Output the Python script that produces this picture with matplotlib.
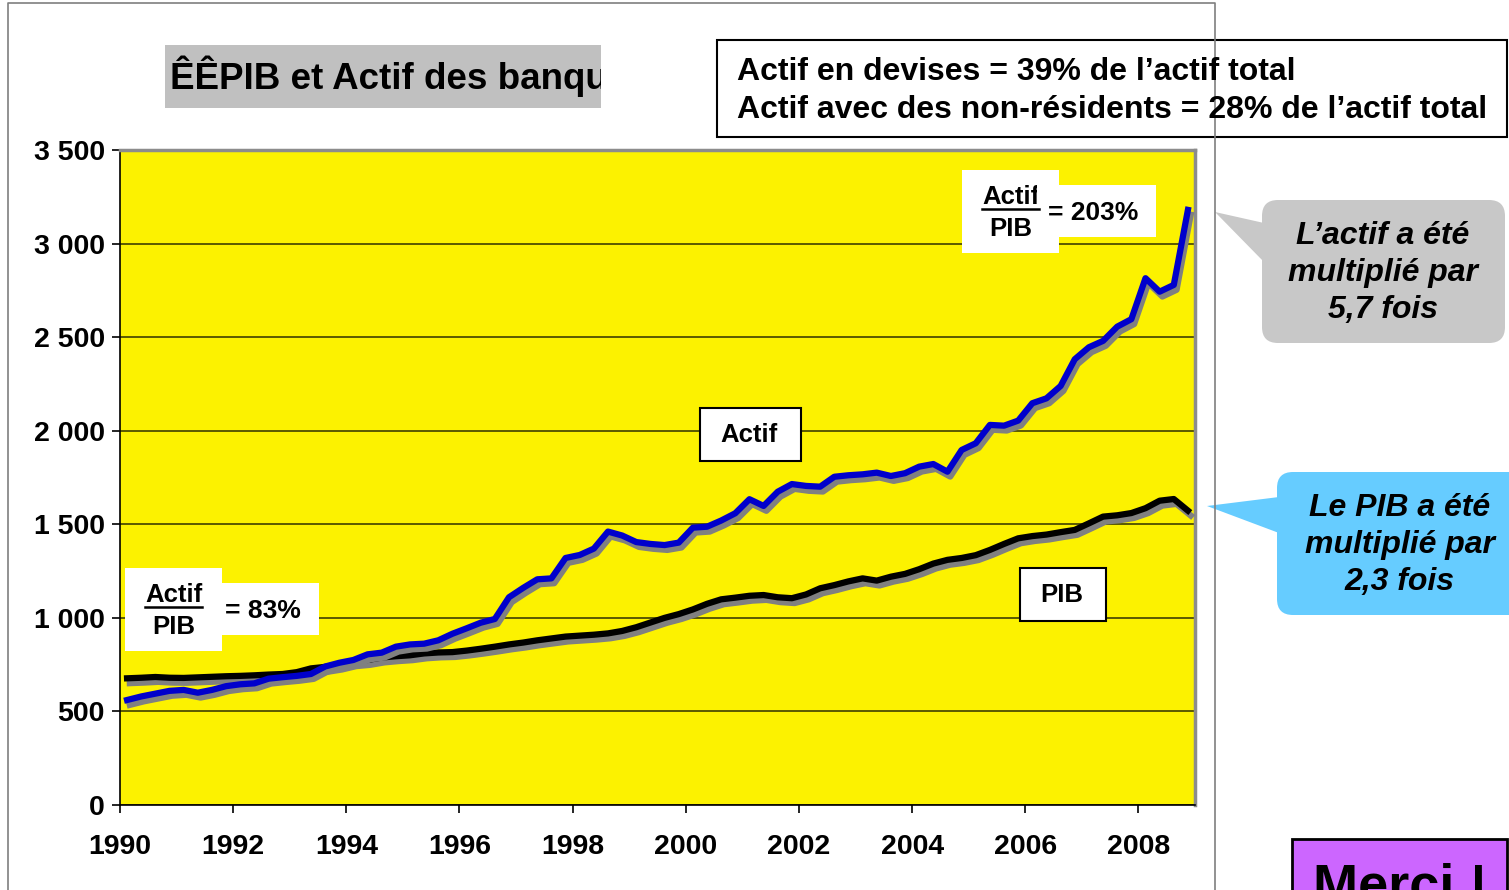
import numpy as np
import matplotlib
matplotlib.use('Agg')
import matplotlib.pyplot as plt
from matplotlib.patches import Rectangle, FancyBboxPatch, Polygon
from matplotlib.lines import Line2D
from matplotlib.transforms import Bbox
import matplotlib.patheffects as pe
from matplotlib.ticker import FuncFormatter, MultipleLocator

plt.rcParams['font.family'] = ['Liberation Sans', 'DejaVu Sans']
plt.rcParams['font.weight'] = 'bold'

# quarterly data, 1990 Q1 .. 2008 Q4
quarters = 1990.125 + 0.25 * np.arange(76)

actif = [561, 580, 595, 610, 615, 600, 615, 635, 645, 650,
         675, 683, 690, 700, 740, 760, 775, 805, 814, 846,
         858, 862, 880, 915, 944, 974, 994, 1110, 1160, 1206,
         1211, 1320, 1336, 1370, 1461, 1440, 1405, 1395, 1389, 1402,
         1482, 1487, 1520, 1559, 1634, 1598, 1674, 1715, 1705, 1701,
         1754, 1762, 1767, 1776, 1758, 1773, 1808, 1822, 1781, 1897,
         1933, 2031, 2027, 2054, 2147, 2173, 2239, 2382, 2446, 2480,
         2556, 2596, 2815, 2743, 2779, 3180]

pib = [677, 680, 684, 680, 679, 682, 685, 688, 690, 693,
       697, 700, 710, 730, 738, 750, 768, 775, 788, 795,
       800, 810, 815, 817, 825, 835, 846, 858, 868, 880,
       890, 900, 905, 910, 917, 930, 950, 975, 1000, 1020,
       1045, 1075, 1099, 1108, 1118, 1122, 1110, 1105, 1125, 1158,
       1175, 1195, 1211, 1199, 1220, 1235, 1260, 1290, 1310, 1320,
       1335, 1363, 1395, 1425, 1437, 1445, 1458, 1470, 1505, 1541,
       1548, 1560, 1586, 1626, 1635, 1573]

title = 'ÊÊPIB et Actif des banqu'
info_lines = ['Actif en devises = 39% de l\u2019actif total',
              'Actif avec des non-résidents = 28% de l\u2019actif total']
callout_actif = 'L\u2019actif a été\nmultiplié par\n5,7 fois'
callout_pib = 'Le PIB a été\nmultiplié par\n2,3 fois'
ratio_start = '= 83%'
ratio_end = '= 203%'

W, H = 1509, 890
fig = plt.figure(figsize=(W / 100, H / 100), dpi=100)

# main chart area (pixel positions from the slide)
x0, x1, y0, y1 = 120, 1195, 150, 805
ax = fig.add_axes([x0 / W, 1 - y1 / H, (x1 - x0) / W, (y1 - y0) / H], zorder=1)
ax.set_facecolor('#FCF200')
ax.set_xlim(1990, 2009)
ax.set_ylim(0, 3500)
ax.yaxis.set_major_locator(MultipleLocator(500))
ax.xaxis.set_major_locator(MultipleLocator(2))
ax.yaxis.set_major_formatter(FuncFormatter(lambda v, p: f'{int(v):,}'.replace(',', ' ')))
ax.grid(axis='y', color='#4d4d00', linewidth=1.3)
ax.set_axisbelow(True)
ax.tick_params(axis='both', labelsize=20.5, length=6, width=1.2, direction='out')
ax.tick_params(axis='x', pad=15)
ax.tick_params(axis='y', pad=5)
for lab in ax.get_xticklabels() + ax.get_yticklabels():
    lab.set_fontweight('bold')
ax.spines['top'].set_color('#8c8c8c')
ax.spines['right'].set_color('#8c8c8c')
ax.spines['top'].set_linewidth(2.5)
ax.spines['right'].set_linewidth(2.5)
ax.spines['left'].set_linewidth(1.2)
ax.spines['bottom'].set_linewidth(1.2)

shadow = [pe.SimpleLineShadow(offset=(2, -3.5), shadow_color='#808080', alpha=1), pe.Normal()]
ax.plot(quarters, pib, color='black', linewidth=4.5, solid_joinstyle='round', path_effects=shadow, zorder=3)
ax.plot(quarters, actif, color='#0000CC', linewidth=4.5, solid_joinstyle='round', path_effects=shadow, zorder=4)

# overlay in pixel coordinates for the slide decorations
ov = fig.add_axes([0, 0, 1, 1], zorder=5)
ov.set_xlim(0, W)
ov.set_ylim(H, 0)
ov.axis('off')
ov.patch.set_alpha(0)


def px_clip(xa, ya, xb, yb):
    # clip box in display coords (figure is saved at 100 dpi, so 1 unit = 1 px)
    return Bbox.from_extents(xa, H - yb, xb, H - ya)


# chart frame
ov.add_line(Line2D([8, 8, 1215, 1215], [H, 3, 3, H], color='#7f7f7f', linewidth=1.2))

# title box (text clipped at the box edge)
ov.add_patch(Rectangle((165, 45), 436, 63, facecolor='#C0C0C0', edgecolor='none'))
t = ov.text(170, 76, title, fontsize=26.5, fontweight='bold', va='center', ha='left')
t.set_clip_box(px_clip(165, 45, 601, 108))
t.set_clip_on(True)

# info box
ov.add_patch(Rectangle((717, 40), 790, 97, facecolor='white', edgecolor='black', linewidth=1.5))
ov.text(737, 72, info_lines[0], fontsize=23, fontweight='bold', va='center')
ov.text(737, 110, info_lines[1], fontsize=23, fontweight='bold', va='center')

# series labels
ov.add_patch(Rectangle((700, 408), 101, 53, facecolor='white', edgecolor='black', linewidth=1.5))
ov.text(749, 435, 'Actif', fontsize=18.5, fontweight='bold', ha='center', va='center')
ov.add_patch(Rectangle((1020, 568), 86, 53, facecolor='white', edgecolor='black', linewidth=1.5))
ov.text(1062, 595, 'PIB', fontsize=18.5, fontweight='bold', ha='center', va='center')


def ratio_box(bx, by, txt, eq_x, clip_right=None):
    ov.add_patch(Rectangle((bx, by), 97, 83, facecolor='white', edgecolor='none'))
    ov.add_patch(Rectangle((bx + 97, by + 15), 97, 52, facecolor='white', edgecolor='none'))
    a = ov.text(bx + 49, by + 27, 'Actif', fontsize=18.5, fontweight='bold', ha='center', va='center')
    if clip_right is not None:
        a.set_clip_box(px_clip(bx, by, clip_right, by + 83))
        a.set_clip_on(True)
    ov.add_line(Line2D([bx + 20, bx + 77], [by + 39, by + 39], color='black', linewidth=1.8))
    ov.text(bx + 49, by + 59, 'PIB', fontsize=18.5, fontweight='bold', ha='center', va='center')
    ov.text(eq_x, by + 43, txt, fontsize=19, fontweight='bold', ha='left', va='center')


ratio_box(125, 568, ratio_start, 225)
ratio_box(962, 170, ratio_end, 1048, clip_right=1037)

# callouts
ov.add_patch(FancyBboxPatch((1262, 200), 243, 143, boxstyle='round,pad=0,rounding_size=16',
                            facecolor='#C8C8C8', edgecolor='none'))
ov.add_patch(Polygon([(1215, 212), (1264, 223), (1264, 262)], closed=True,
                     facecolor='#C8C8C8', edgecolor='none'))
ov.text(1383, 273, callout_actif, fontsize=23, fontweight='bold', fontstyle='italic',
        ha='center', va='center', linespacing=1.3)

ov.add_patch(FancyBboxPatch((1277, 472), 250, 143, boxstyle='round,pad=0,rounding_size=16',
                            facecolor='#66CCFF', edgecolor='none'))
ov.add_patch(Polygon([(1207, 506), (1279, 497), (1279, 533)], closed=True,
                     facecolor='#66CCFF', edgecolor='none'))
ov.text(1400, 545, callout_pib, fontsize=23, fontweight='bold', fontstyle='italic',
        ha='center', va='center', linespacing=1.3)

# closing box (cut by the slide edge, as in the original)
ov.add_patch(Rectangle((1292, 839), 215, 80, facecolor='#CC66FF', edgecolor='black', linewidth=2))
ov.text(1313, 862, 'Merci !', fontsize=39, fontweight='bold', ha='left', va='top')

fig.savefig('out.png', dpi=100)
